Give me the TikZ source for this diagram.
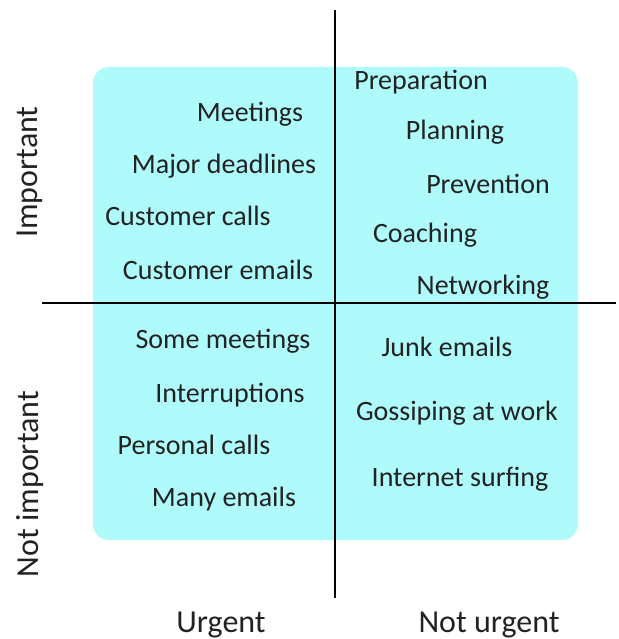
\documentclass[tikz,border=0pt]{standalone}
\usepackage{fontspec}
\setmainfont{Carlito}
\usetikzlibrary{positioning}

\definecolor{quadfill}{HTML}{AFFAFA}
\definecolor{txtgray}{HTML}{222222}

\begin{document}
\begin{tikzpicture}[
  x=1pt,y=-1pt,
  task/.style={anchor=mid,inner sep=0pt,text=txtgray,font=\fontsize{28}{32}\selectfont},
  axislabel/.style={inner sep=0pt,text=txtgray,font=\fontsize{32}{36}\selectfont},
  axisline/.style={line width=1.8pt,black}
]
\useasboundingbox (0,0) rectangle (618,639);
\fill[quadfill,rounded corners=16pt] (93,67) rectangle (578,540);

% axes
\coordinate (vtop) at (335,10);
\coordinate (vbot) at (335,598);
\coordinate (hleft) at (42,303);
\coordinate (hright) at (616,303);
\draw[axisline] (vtop) -- (vbot);
\draw[axisline] (hleft) -- (hright);

% urgent and important
\node[task] (meet) at (250,119) {Meetings};
\node[task] (dead) at (224,171) {Major deadlines};
\node[task] (calls) at (188,223) {Customer calls};
\node[task] (cmail) at (218,277) {Customer emails};

% not urgent but important
\node[task] (prep) at (421,87) {Preparation};
\node[task] (plan) at (455,137) {Planning};
\node[task] (prev) at (488,191) {Prevention};
\node[task] (coach) at (425,240) {Coaching};
\node[task] (net) at (483,292) {Networking};

% urgent, not important
\node[task] (some) at (223,346) {Some meetings};
\node[task] (intr) at (230,400) {Interruptions};
\node[task] (pers) at (194,452) {Personal calls};
\node[task] (many) at (224,504) {Many emails};

% neither
\node[task] (junk) at (447,354) {Junk emails};
\node[task] (goss) at (457,418) {Gossiping at work};
\node[task] (surf) at (460,484) {Internet surfing};

% axis labels
\node[axislabel,rotate=90] (imp) at (30,172) {Important};
\node[axislabel,rotate=90] (nimp) at (30,484) {Not important};
\node[axislabel] (urg) at (221,625) {Urgent};
\node[axislabel] (nurg) at (489,625) {Not urgent};
\end{tikzpicture}
\end{document}
